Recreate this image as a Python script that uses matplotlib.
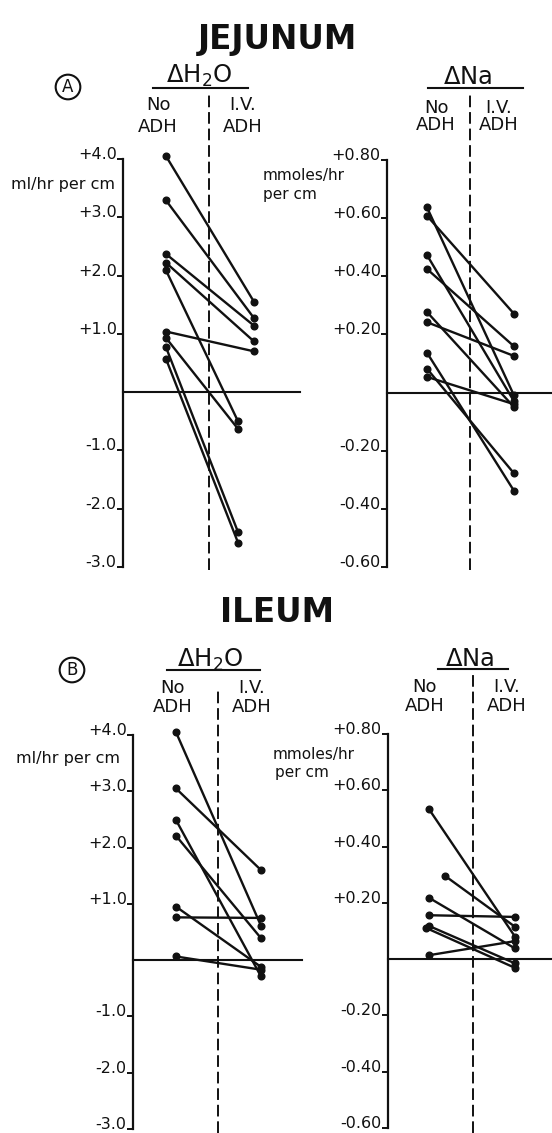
import numpy as np
import matplotlib
import matplotlib.pyplot as plt
matplotlib.use('Agg')

plt.rcParams['font.family'] = ['DejaVu Sans']

# data: each pair = one segment (No ADH -> I.V. ADH)
jej_h2o_no = [4.05, 3.29, 2.37, 2.22, 2.09, 1.04, 0.93, 0.77, 0.57]
jej_h2o_iv = [1.55, 1.27, 1.14, 0.87, -0.50, 0.70, -0.63, -2.40, -2.58]

jej_na_no = [0.637, 0.608, 0.473, 0.425, 0.277, 0.242, 0.137, 0.082, 0.054]
jej_na_iv = [-0.01, 0.271, -0.03, 0.159, -0.05, 0.126, -0.338, -0.278, -0.04]

il_h2o_no = [4.05, 3.05, 2.49, 2.21, 0.95, 0.76, 0.065]
il_h2o_iv = [0.61, 1.60, -0.29, 0.39, -0.12, 0.75, -0.17]

il_na_no = [0.533, 0.296, 0.218, 0.156, 0.118, 0.111, 0.014]
il_na_iv = [0.080, 0.115, 0.038, 0.150, -0.015, -0.031, 0.064]

h2o_ticks = [4.0, 3.0, 2.0, 1.0, -1.0, -2.0, -3.0]
h2o_labels = ['+4.0', '+3.0', '+2.0', '+1.0', '-1.0', '-2.0', '-3.0']
na_ticks = [0.8, 0.6, 0.4, 0.2, -0.2, -0.4, -0.6]
na_labels = ['+0.80', '+0.60', '+0.40', '+0.20', '-0.20', '-0.40', '-0.60']

W, H = 552, 1133
fig = plt.figure(figsize=(W / 100, H / 100), dpi=100)
ink = '#111111'


def ft(x, y, s, **kw):
    kw.setdefault('color', ink)
    return fig.text(x / W, 1 - y / H, s, **kw)


def panel(no, iv, ticks, labels, ylim, box, xs, head_top, dash_bot, nudge_iv=None, nudge_no=None):
    # box = spine x, top px, end x, bottom px ; xs = (left pts, right pts, dashed line)
    x0, yt, x1, yb = box
    ax = fig.add_axes([x0 / W, 1 - yb / H, (x1 - x0) / W, (yb - yt) / H])
    ax.set_xlim(x0, x1)
    ax.set_ylim(*ylim)
    for s in ['top', 'right', 'bottom']:
        ax.spines[s].set_visible(False)
    ax.spines['left'].set_linewidth(1.6)
    ax.spines['left'].set_color(ink)
    ax.set_xticks([])
    ax.set_yticks(ticks)
    ax.set_yticklabels(labels, fontsize=11.5, color=ink)
    ax.tick_params(axis='y', length=4, width=1.4, pad=0.5, color=ink)
    for lab in ax.get_yticklabels():
        lab.set_verticalalignment('baseline')
    ax.patch.set_alpha(0)
    ax.axhline(0, color=ink, lw=1.5, clip_on=False)

    xl, xr, xd = xs
    top_frac = (yb - head_top) / (yb - yt)
    bot_frac = (yb - dash_bot) / (yb - yt)
    ax.plot([xd, xd], [bot_frac, top_frac], transform=ax.get_xaxis_transform(),
            color=ink, lw=1.4, dashes=(6, 2.5), clip_on=False)

    for i, (a, b) in enumerate(zip(no, iv)):
        xa = xl + (nudge_no or {}).get(i, 0)
        xb = xr + (nudge_iv(b) if nudge_iv else 0)
        ax.plot([xa, xb], [a, b], color=ink, lw=1.7, marker='o', ms=4.8,
                solid_capstyle='round', clip_on=False)
    return ax


# titles
ft(277, 40, 'JEJUNUM', fontsize=23.5, fontweight='bold', ha='center', va='center')
ft(277, 612, 'ILEUM', fontsize=23.5, fontweight='bold', ha='center', va='center')

circ = dict(boxstyle='circle,pad=0.2', fc='white', ec=ink, lw=1.5)
ft(68, 87, 'A', fontsize=12, ha='center', va='center', bbox=circ)
ft(72, 670, 'B', fontsize=12, ha='center', va='center', bbox=circ)


def header(cx, cy, text, ul, nx, ix, ny, ay):
    ft(cx, cy, text, fontsize=17.5, ha='center', va='center')
    fig.add_artist(plt.Line2D([ul[0] / W, ul[1] / W], [1 - ul[2] / H] * 2, color=ink, lw=1.5))
    for x, top, bot in [(nx, 'No', 'ADH'), (ix, 'I.V.', 'ADH')]:
        ft(x, ny, top, fontsize=13, ha='center', va='center')
        ft(x, ay, bot, fontsize=13, ha='center', va='center')


header(199, 76, r'$\Delta$H$_2$O', (153, 248, 88), 158, 243, 105, 127)
header(468, 77, r'$\Delta$Na', (428, 523, 88), 436, 499, 108, 125)
header(210, 660, r'$\Delta$H$_2$O', (167, 260, 670), 173, 252, 688, 707)
header(470, 659, r'$\Delta$Na', (438, 508, 669), 425, 507, 687, 706)

# axis units
ft(115, 185, 'ml/hr per cm', fontsize=11.5, ha='right', va='center')
ft(120, 759, 'ml/hr per cm', fontsize=11.5, ha='right', va='center')
ft(263, 176, 'mmoles/hr', fontsize=11, ha='left', va='center')
ft(263, 194, 'per cm', fontsize=11, ha='left', va='center')
ft(273, 754, 'mmoles/hr', fontsize=11, ha='left', va='center')
ft(275, 772, 'per cm', fontsize=11, ha='left', va='center')

panel(jej_h2o_no, jej_h2o_iv, h2o_ticks, h2o_labels, (-3.0, 4.0),
      (123, 159, 300, 567), (166, 254, 209), 95, 570,
      nudge_iv=lambda v: 0 if v > 0 else -16)
panel(jej_na_no, jej_na_iv, na_ticks, na_labels, (-0.6, 0.8),
      (387, 160, 552, 567), (427, 514, 470), 95, 570)
panel(il_h2o_no, il_h2o_iv, h2o_ticks, h2o_labels, (-3.0, 4.0),
      (133, 735, 302, 1129), (176, 261, 218), 688, 1133)
panel(il_na_no, il_na_iv, na_ticks, na_labels, (-0.6, 0.8),
      (388, 734, 552, 1128), (429, 515, 473), 675, 1133,
      nudge_no={1: 16, 5: -3})

fig.savefig('out.png', dpi=100)
